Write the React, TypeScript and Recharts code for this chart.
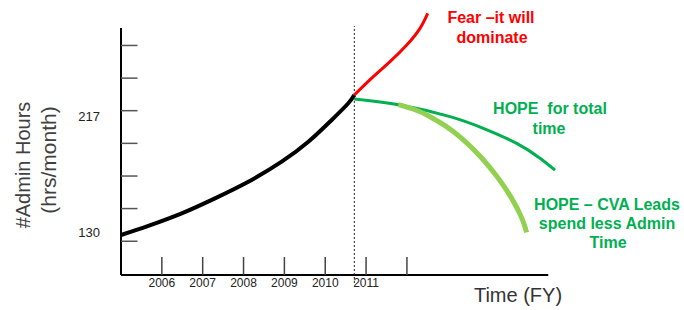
import React from 'react';
import { LineChart, Line, XAxis, YAxis, ReferenceLine, Customized } from 'recharts';

// x-axis ticks (fiscal years) and their labels
const yearTicks = [2006, 2007, 2008, 2009, 2010, 2011, 2012];
const yearLabels = ['2006', '2007', '2008', '2009', '2010', '2011', ''];

// y-axis tick marks (unlabelled) and labelled values
const hourMarks = [123.4, 148, 172.5, 197.1, 221.7, 246.2, 270.8];
const hourLabels = [130, 217];

// historical admin hours
const pastYears = [2005.0, 2005.668, 2006.486, 2007.301, 2008.117, 2008.934, 2009.586, 2010.158, 2010.565, 2010.712];
const pastHours = [128.1, 135.0, 144.4, 155.7, 168.2, 183.3, 198.3, 214.7, 227.3, 233.5];

// "Fear" scenario
const fearYears = [2010.712, 2011.177, 2011.586, 2011.995, 2012.32, 2012.509];
const fearHours = [233.5, 247.3, 258.6, 271.1, 283.7, 295.0];

// "HOPE for total time"
const hopeTotalYears = [2010.712, 2011.83, 2013.055, 2013.87, 2014.688, 2015.258, 2015.625];
const hopeTotalHours = [230.5, 226.0, 217.2, 208.4, 197.1, 185.9, 177.0];

// "HOPE – CVA Leads spend less Admin Time"
const hopeCvaYears = [2011.789, 2012.198, 2012.523, 2012.932, 2013.341, 2013.831, 2014.237, 2014.565, 2014.81, 2014.932];
const hopeCvaHours = [226.2, 222.4, 217.9, 210.4, 200.8, 186.1, 170.8, 155.7, 141.0, 130.1];

const X_MIN = 2005;
const X_MAX = 2018;
const X_AXIS_END = 2015.46;
const Y_MIN = 98;
const Y_MAX = 299;
const Y_AXIS_TOP = 284;
const NOW_YEAR = 2010.712;

const toPoints = (xs: number[], ys: number[]) => xs.map((x, i) => ({ x, y: ys[i] }));

const pastData = toPoints(pastYears, pastHours);
const fearData = toPoints(fearYears, fearHours);
const hopeTotalData = toPoints(hopeTotalYears, hopeTotalHours);
const hopeCvaData = toPoints(hopeCvaYears, hopeCvaHours);

const FONT = 'Liberation Sans, Arial, Helvetica, sans-serif';

const HourTick = (props: any) => {
  const { x, y, payload } = props;
  const v = payload.value;
  if (hourLabels.includes(v)) {
    return (
      <text x={x - 21} y={y} dy="0.35em" textAnchor="end" fontSize={13} fontFamily={FONT} fill="#222">
        {v}
      </text>
    );
  }
  return <line x1={x} x2={x + 16.5} y1={y} y2={y} stroke="#555" strokeWidth={1.5} />;
};

const Annotations = () => (
  <g fontFamily={FONT}>
    <text x={23} y={165} transform="rotate(-90 23 165)" textAnchor="middle" dominantBaseline="central" fontSize={20} fill="#404040">
      #Admin Hours
    </text>
    <text x={48} y={160} transform="rotate(-90 48 160)" textAnchor="middle" dominantBaseline="central" fontSize={21} fill="#404040">
      (hrs/month)
    </text>
    <text x={518} y={295} textAnchor="middle" dominantBaseline="central" fontSize={20} fill="#333">
      Time (FY)
    </text>
    <g fontSize={16} fontWeight="bold" textAnchor="middle" dominantBaseline="central">
      <text x={491} y={17} fill="#ff0000">Fear –it will</text>
      <text x={492} y={37} fill="#ff0000">dominate</text>
      <text x={550} y={108} fill="#00b050" xmlSpace="preserve" style={{ whiteSpace: 'pre' }}>{'HOPE  for total'}</text>
      <text x={549} y={128} fill="#00b050">time</text>
      <text x={607} y={204} fill="#00b050">HOPE – CVA Leads</text>
      <text x={607} y={223} fill="#00b050">spend less Admin</text>
      <text x={608} y={242} fill="#00b050">Time</text>
    </g>
  </g>
);

export default function App() {
  return (
    <div style={{ position: 'absolute', left: 0, top: 0, background: '#fff' }}>
      <LineChart width={684} height={310} margin={{ top: 8, right: 32, bottom: 5, left: 61 }}>
        <XAxis
          type="number"
          dataKey="x"
          domain={[X_MIN, X_MAX]}
          ticks={yearTicks}
          tickFormatter={(v: number) => yearLabels[yearTicks.indexOf(v)] ?? ''}
          axisLine={false}
          tickLine={{ stroke: '#444', strokeWidth: 1.5 }}
          tickSize={-18}
          tickMargin={21.5}
          height={30}
          interval={0}
          tick={{ fontSize: 12, fill: '#222', fontFamily: FONT }}
        />
        <YAxis
          type="number"
          dataKey="y"
          domain={[Y_MIN, Y_MAX]}
          ticks={[...hourMarks, ...hourLabels]}
          interval={0}
          axisLine={false}
          tickLine={false}
          tickSize={0}
          tickMargin={0}
          width={60}
          tick={<HourTick />}
        />
        <ReferenceLine
          segment={[{ x: X_MIN, y: Y_MIN }, { x: X_AXIS_END, y: Y_MIN }]}
          stroke="#000"
          strokeWidth={2}
          ifOverflow="visible"
        />
        <ReferenceLine
          segment={[{ x: X_MIN, y: Y_MIN }, { x: X_MIN, y: Y_AXIS_TOP }]}
          stroke="#000"
          strokeWidth={2}
          ifOverflow="visible"
        />
        <ReferenceLine
          segment={[{ x: NOW_YEAR, y: 92 }, { x: NOW_YEAR, y: 285.4 }]}
          stroke="#222"
          strokeWidth={1}
          strokeDasharray="2 2"
          ifOverflow="visible"
        />
        <Line data={pastData} dataKey="y" type="natural" stroke="#000" strokeWidth={4} dot={false} activeDot={false} isAnimationActive={false} />
        <Line data={fearData} dataKey="y" type="natural" stroke="#ff0000" strokeWidth={3} dot={false} activeDot={false} isAnimationActive={false} />
        <Line data={hopeTotalData} dataKey="y" type="natural" stroke="#00b050" strokeWidth={3} dot={false} activeDot={false} isAnimationActive={false} />
        <Line data={hopeCvaData} dataKey="y" type="natural" stroke="#92d050" strokeWidth={5} dot={false} activeDot={false} isAnimationActive={false} />
        <Customized component={Annotations} />
      </LineChart>
    </div>
  );
}
